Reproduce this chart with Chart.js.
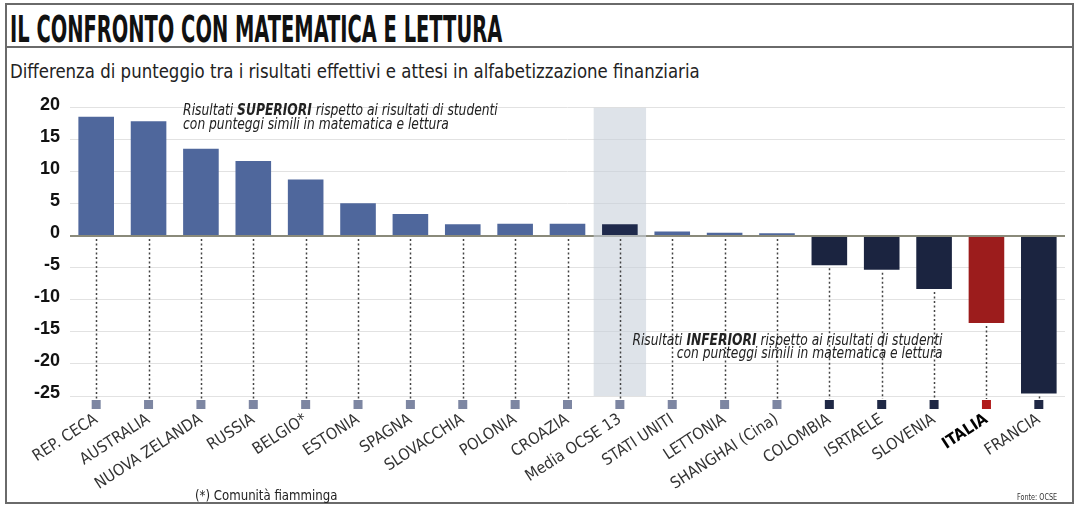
<!DOCTYPE html>
<html lang="it">
<head>
<meta charset="utf-8">
<script src="https://cdn.jsdelivr.net/npm/chart.js@4.4.1/dist/chart.umd.min.js"></script>
<style>
  html, body { margin: 0; padding: 0; background: #fff; }
  #frame {
    position: absolute; left: 5px; top: 3px; width: 1069px; height: 501px;
    border: 2px solid #6a6a6a; box-sizing: border-box;
  }
  .narrow {
    position: absolute; white-space: nowrap; transform-origin: left top;
    font-family: 'DejaVu Sans Condensed', 'Liberation Sans Narrow', sans-serif;
  }
  #title { left: 3px; top: 3px; font-weight: bold; font-size: 37px; color: #111; }
  #rule { position: absolute; left: 0; right: 0; top: 41px; border-top: 2px solid #6a6a6a; }
  #subtitle { left: 3px; top: 54px; font-size: 20px; color: #222; }
  #note { left: 188px; top: 482px; font-size: 14px; color: #222; }
  #source { left: 1010px; top: 487px; font-size: 9px; color: #333; }
  #chartBox { position: absolute; left: 1px; top: 82px; width: 1065px; height: 414px; }
</style>
</head>
<body>
<div id="frame">
  <div id="title" class="narrow" data-w="492">IL CONFRONTO CON MATEMATICA E LETTURA</div>
  <div id="rule"></div>
  <div id="subtitle" class="narrow" data-w="690">Differenza di punteggio tra i risultati effettivi e attesi in alfabetizzazione finanziaria</div>
  <div id="chartBox"><canvas id="chart"></canvas></div>
  <div id="note" class="narrow" data-w="142">(*) Comunità fiamminga</div>
  <div id="source" class="narrow" data-w="40">Fonte: OCSE</div>
</div>
<script>
'use strict';

// Dati
const categories = [
  'REP. CECA', 'AUSTRALIA', 'NUOVA ZELANDA', 'RUSSIA', 'BELGIO*', 'ESTONIA',
  'SPAGNA', 'SLOVACCHIA', 'POLONIA', 'CROAZIA', 'Media OCSE 13', 'STATI UNITI',
  'LETTONIA', 'SHANGHAI (Cina)', 'COLOMBIA', 'ISRTAELE', 'SLOVENIA', 'ITALIA', 'FRANCIA',
];
const values = [
  18.6, 17.9, 13.6, 11.7, 8.8, 5.1, 3.4, 1.8, 1.9, 1.9, 1.8, 0.7,
  0.5, 0.4, -4.6, -5.3, -8.3, -13.6, -24.6,
];
const yTicks = [20, 15, 10, 5, 0, -5, -10, -15, -20, -25];
const averageLabel = 'Media OCSE 13';
const highlightLabel = 'ITALIA';

const narrow = "'DejaVu Sans Condensed', 'Liberation Sans Narrow', sans-serif";

// Testi HTML compressi in orizzontale per imitare il carattere condensato
document.querySelectorAll('.narrow').forEach(el => {
  const target = Number(el.dataset.w);
  el.style.transform = `scaleX(${target / el.scrollWidth})`;
});

function barColor(i) {
  if (categories[i] === highlightLabel) return '#9c1c1c';
  if (categories[i] === averageLabel) return '#1f2a4c';
  return values[i] < 0 ? '#1b2440' : '#4f679c';
}
function markerColor(i) {
  if (categories[i] === highlightLabel) return '#b01a1a';
  return values[i] < 0 ? '#1f2845' : '#7d86a2';
}

// Fascia grigia, linee tratteggiate e quadratini sotto ogni categoria
const guidesPlugin = {
  id: 'guides',
  beforeDatasetsDraw(chart) {
    const { ctx } = chart;
    const x = chart.scales.x;
    const y = chart.scales.y;
    const half = (x.getPixelForValue(1) - x.getPixelForValue(0)) / 2;
    const avgX = x.getPixelForValue(categories.indexOf(averageLabel));
    ctx.save();
    ctx.fillStyle = 'rgba(200, 208, 218, 0.6)';
    ctx.fillRect(avgX - half, y.getPixelForValue(20), half * 2, y.getPixelForValue(-25) - y.getPixelForValue(20));

    ctx.strokeStyle = '#444';
    ctx.lineWidth = 1.5;
    ctx.setLineDash([2, 2.5]);
    categories.forEach((c, i) => {
      const px = Math.round(x.getPixelForValue(i)) + 0.5;
      ctx.beginPath();
      ctx.moveTo(px, y.getPixelForValue(Math.min(values[i], 0)) + 3);
      ctx.lineTo(px, y.getPixelForValue(-25) + 3);
      ctx.stroke();
    });
    ctx.setLineDash([]);
    categories.forEach((c, i) => {
      const px = x.getPixelForValue(i);
      ctx.fillStyle = markerColor(i);
      ctx.fillRect(px - 4.5, y.getPixelForValue(-25) + 4, 9, 9);
    });
    ctx.restore();
  },
  afterDraw(chart) {
    const { ctx } = chart;
    const x = chart.scales.x;
    const y = chart.scales.y;
    const squeeze = 0.91;
    const drawRich = (parts, px, py, align) => {
      ctx.save();
      ctx.fillStyle = '#222';
      ctx.textBaseline = 'alphabetic';
      let total = 0;
      parts.forEach(p => { ctx.font = p.font; total += ctx.measureText(p.t).width; });
      total *= squeeze;
      ctx.translate(align === 'right' ? px - total : px, py);
      ctx.scale(squeeze, 1);
      let cx = 0;
      parts.forEach(p => {
        ctx.font = p.font;
        ctx.fillText(p.t, cx, 0);
        cx += ctx.measureText(p.t).width;
      });
      ctx.restore();
    };
    const it = `italic 15px ${narrow}`;
    const itb = `italic bold 15px ${narrow}`;
    const lx = x.getPixelForValue(1.66);
    drawRich([{ t: 'Risultati ', font: it }, { t: 'SUPERIORI', font: itb }, { t: ' rispetto ai risultati di studenti', font: it }], lx, y.getPixelForValue(18.8), 'left');
    drawRich([{ t: 'con punteggi simili in matematica e lettura', font: it }], lx, y.getPixelForValue(16.7), 'left');
    const rx = x.getPixelForValue(16.16);
    drawRich([{ t: 'Risultati ', font: it }, { t: 'INFERIORI', font: itb }, { t: ' rispetto ai risultati di studenti', font: it }], rx, y.getPixelForValue(-17.1), 'right');
    drawRich([{ t: 'con punteggi simili in matematica e lettura', font: it }], rx, y.getPixelForValue(-19.1), 'right');
  },
};

const ctx = document.getElementById('chart').getContext('2d');
new Chart(ctx, {
  type: 'bar',
  data: {
    labels: categories,
    datasets: [{
      data: values,
      backgroundColor: categories.map((_, i) => barColor(i)),
      borderWidth: 0,
      barPercentage: 0.68,
      categoryPercentage: 1,
    }],
  },
  options: {
    responsive: true,
    maintainAspectRatio: false,
    animation: false,
    layout: { padding: { top: 14, right: 8, left: 0, bottom: 0 } },
    plugins: { legend: { display: false }, tooltip: { enabled: false } },
    scales: {
      x: {
        grid: { display: false, drawTicks: false },
        border: { display: false },
        afterFit: scale => { scale.height = 105; },
        ticks: {
          autoSkip: false,
          maxRotation: 33,
          minRotation: 33,
          padding: 14,
          color: ctx => (categories[ctx.index] === highlightLabel ? '#000' : '#333'),
          font: ctx => ({
            family: narrow,
            size: 16,
            weight: categories[ctx.index] === highlightLabel ? 'bold' : 'normal',
          }),
        },
      },
      y: {
        min: -25,
        max: 20,
        afterFit: scale => { scale.width = 62; },
        afterBuildTicks: scale => { scale.ticks = yTicks.map(v => ({ value: v })); },
        border: { display: false },
        grid: {
          drawTicks: false,
          color: c => (c.tick && c.tick.value === 0 ? '#8a8a7a' : '#e2e2e2'),
          lineWidth: c => (c.tick && c.tick.value === 0 ? 2 : 1),
        },
        ticks: {
          padding: 10,
          labelOffset: -3,
          color: '#111',
          font: { family: "'Liberation Sans', Arial, sans-serif", weight: 'bold', size: 18 },
        },
      },
    },
  },
  plugins: [guidesPlugin],
});
</script>
</body>
</html>
